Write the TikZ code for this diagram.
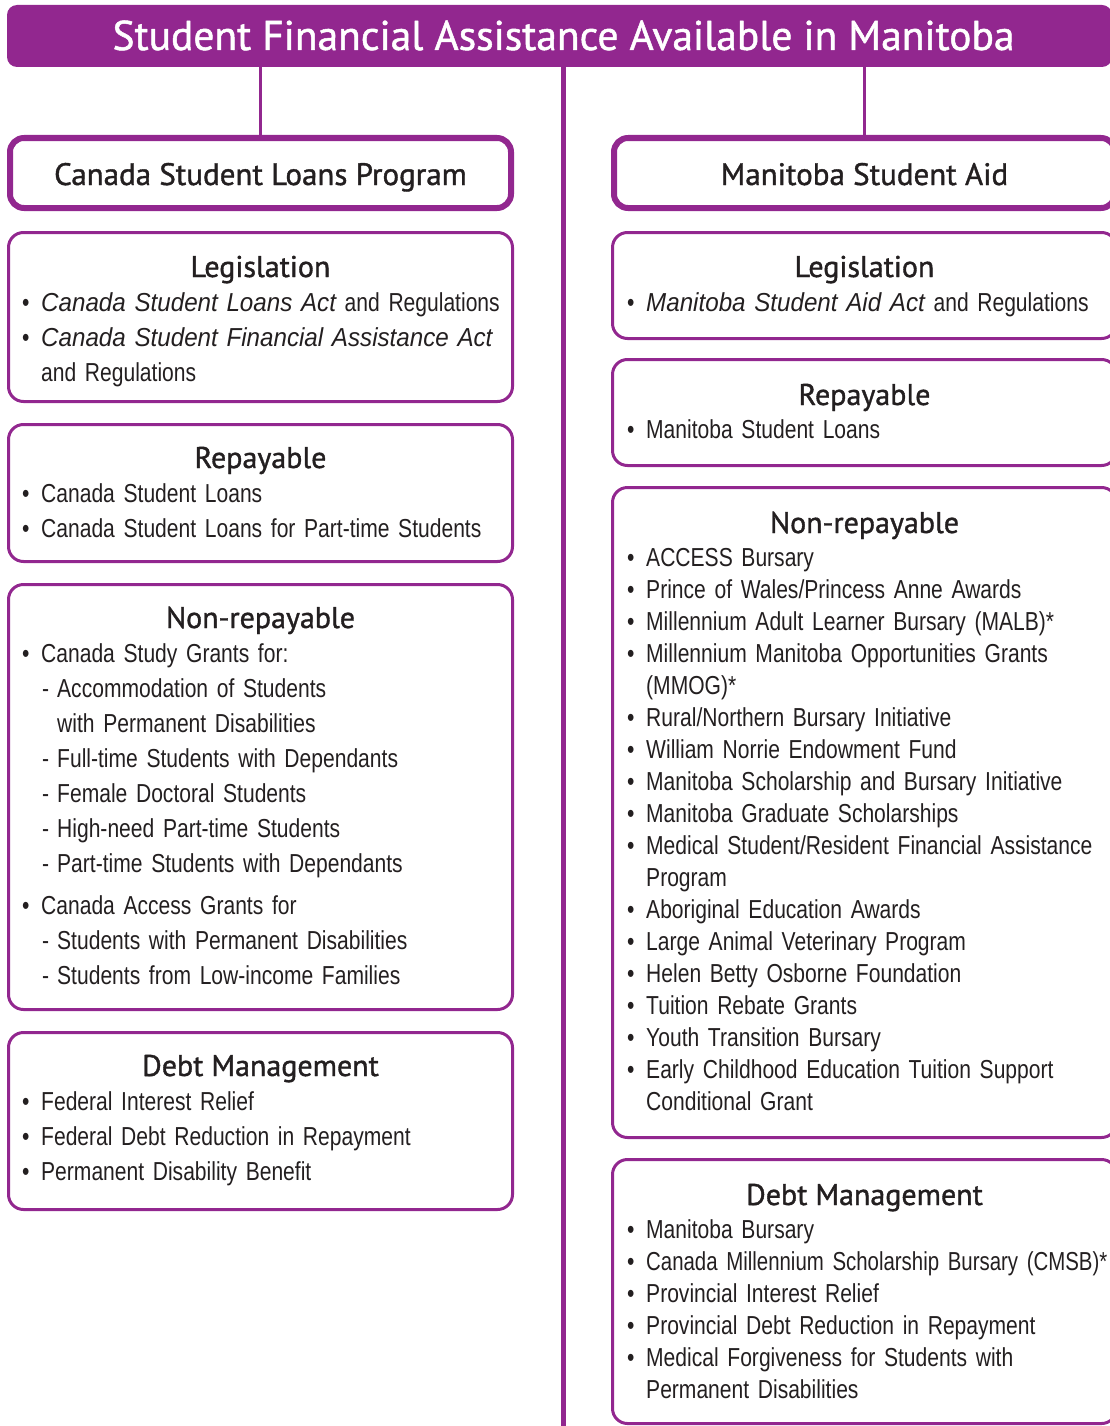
\documentclass[tikz,border=0pt]{standalone}
\usepackage{fontspec}
\setmainfont{Liberation Sans}[FakeStretch=0.81]
\newfontfamily\actfont{Liberation Sans}[FakeStretch=0.93]
\newfontfamily\tightfont{Liberation Sans}[FakeStretch=0.785]
\newfontfamily\headfont{PT Sans}[FakeBold=1.2]
\definecolor{aidpurple}{HTML}{92278F}
\definecolor{inkgray}{HTML}{231F20}
\newcommand{\bul}{\makebox[19pt][l]{\textbullet}}
\newcommand{\cnt}{\hspace*{19pt}}
\newcommand{\dsh}{\hspace*{20pt}\makebox[15pt][l]{-}}
\newcommand{\dcnt}{\hspace*{35pt}}
\newcommand{\act}[1]{{\actfont\itshape #1}}
\begin{document}
\begin{tikzpicture}[x=1pt, y=-1pt, line join=round, line cap=round,
	mainbox/.style={draw=aidpurple, line width=6pt, rounded corners=14pt, minimum width=501pt, minimum height=70pt, text=inkgray, text height=30pt, text depth=6pt, font=\headfont\fontsize{31}{36}\selectfont},
	panel/.style={draw=aidpurple, line width=3pt, rounded corners=15pt, minimum width=504pt},
	heading/.style={anchor=base, inner sep=0pt, text=inkgray, font=\headfont\fontsize{30}{36}\selectfont},
	list/.style={anchor=base west, inner sep=0pt, text width=600pt, align=left, text=inkgray, font=\fontsize{26}{35}\selectfont},
	rlist/.style={list, font=\fontsize{26}{32}\selectfont},
	link/.style={draw=aidpurple, line width=3pt, line cap=butt}]
	\useasboundingbox (0,0) rectangle (1110,1426);
	% title bar and trunk
	\node[fill=aidpurple, rounded corners=10pt, minimum width=1105pt, minimum height=62pt] (titlebar) at (559.5,36) {};
	\node[anchor=base, inner sep=0pt, text=white, font=\headfont\fontsize{41.5}{48}\selectfont] (title) at (563.5,50) {Student Financial Assistance Available in Manitoba};
	\coordinate (trunk) at (563,1426);
	\draw[link, line width=5pt] (titlebar.south -| trunk) -- (trunk);
	% programs
	\node[mainbox] (cslp) at (260.5,173) {Canada Student Loans Program};
	\node[mainbox] (msa) at (864.5,173) {Manitoba Student Aid};
	\draw[link] (titlebar.south -| cslp.north) -- (cslp.north);
	\draw[link] (titlebar.south -| msa.north) -- (msa.north);
	% left column
	\node[panel, minimum height=169pt] (lleg) at (260.5,317) {};
	\node[heading] (lleg-h) at (260.5,277) {Legislation};
	\node[list] (lleg-l) at (22,311) {\bul\act{Canada Student Loans Act} and Regulations\\
		\bul\act{Canada Student Financial Assistance Act}\\
		\cnt and Regulations};
	\node[panel, minimum height=137pt] (lrep) at (260.5,493) {};
	\node[heading] (lrep-h) at (260.5,468) {Repayable};
	\node[list] (lrep-l) at (22,502) {\bul Canada Student Loans\\
		\bul Canada Student Loans for Part-time Students};
	\node[panel, minimum height=425pt] (lnon) at (260.5,797) {};
	\node[heading] (lnon-h) at (260.5,628) {Non-repayable};
	\node[list] (lnon-l) at (22,662) {\bul Canada Study Grants for:\\
		\dsh Accommodation of Students\\
		\dcnt with Permanent Disabilities\\
		\dsh Full-time Students with Dependants\\
		\dsh Female Doctoral Students\\
		\dsh High-need Part-time Students\\
		\dsh Part-time Students with Dependants\\[7pt]
		\bul Canada Access Grants for\\
		\dsh Students with Permanent Disabilities\\
		\dsh Students from Low-income Families};
	\node[panel, minimum height=177pt] (ldebt) at (260.5,1121) {};
	\node[heading] (ldebt-h) at (260.5,1076) {Debt Management};
	\node[list] (ldebt-l) at (22,1110) {\bul Federal Interest Relief\\
		\bul Federal Debt Reduction in Repayment\\
		\bul Permanent Disability Benefit};
	% right column
	\node[panel, minimum height=106pt] (rleg) at (864.5,285.5) {};
	\node[heading] (rleg-h) at (864.5,277) {Legislation};
	\node[list] (rleg-l) at (627,311) {\bul\act{Manitoba Student Aid Act} and Regulations};
	\node[panel, minimum height=106pt] (rrep) at (864.5,412.5) {};
	\node[heading] (rrep-h) at (864.5,405) {Repayable};
	\node[list] (rrep-l) at (627,438) {\bul Manitoba Student Loans};
	\node[panel, minimum height=650pt] (rnon) at (864.5,812.5) {};
	\node[heading] (rnon-h) at (864.5,533) {Non-repayable};
	\node[rlist] (rnon-l) at (627,566) {\bul ACCESS Bursary\\
		\bul Prince of Wales/Princess Anne Awards\\
		\bul Millennium Adult Learner Bursary (MALB)*\\
		\bul Millennium Manitoba Opportunities Grants\\
		\cnt(MMOG)*\\
		\bul Rural/Northern Bursary Initiative\\
		\bul William Norrie Endowment Fund\\
		\bul Manitoba Scholarship and Bursary Initiative\\
		\bul Manitoba Graduate Scholarships\\
		\bul Medical Student/Resident Financial Assistance\\
		\cnt Program\\
		\bul Aboriginal Education Awards\\
		\bul Large Animal Veterinary Program\\
		\bul Helen Betty Osborne Foundation\\
		\bul Tuition Rebate Grants\\
		\bul Youth Transition Bursary\\
		\bul Early Childhood Education Tuition Support\\
		\cnt Conditional Grant};
	\node[panel, minimum height=264pt] (rdebt) at (864.5,1291.5) {};
	\node[heading] (rdebt-h) at (864.5,1205) {Debt Management};
	\node[rlist] (rdebt-l) at (627,1238) {\bul Manitoba Bursary\\
		\bul{\tightfont Canada Millennium Scholarship Bursary (CMSB)*}\\
		\bul Provincial Interest Relief\\
		\bul Provincial Debt Reduction in Repayment\\
		\bul Medical Forgiveness for Students with\\
		\cnt Permanent Disabilities};
\end{tikzpicture}
\end{document}
